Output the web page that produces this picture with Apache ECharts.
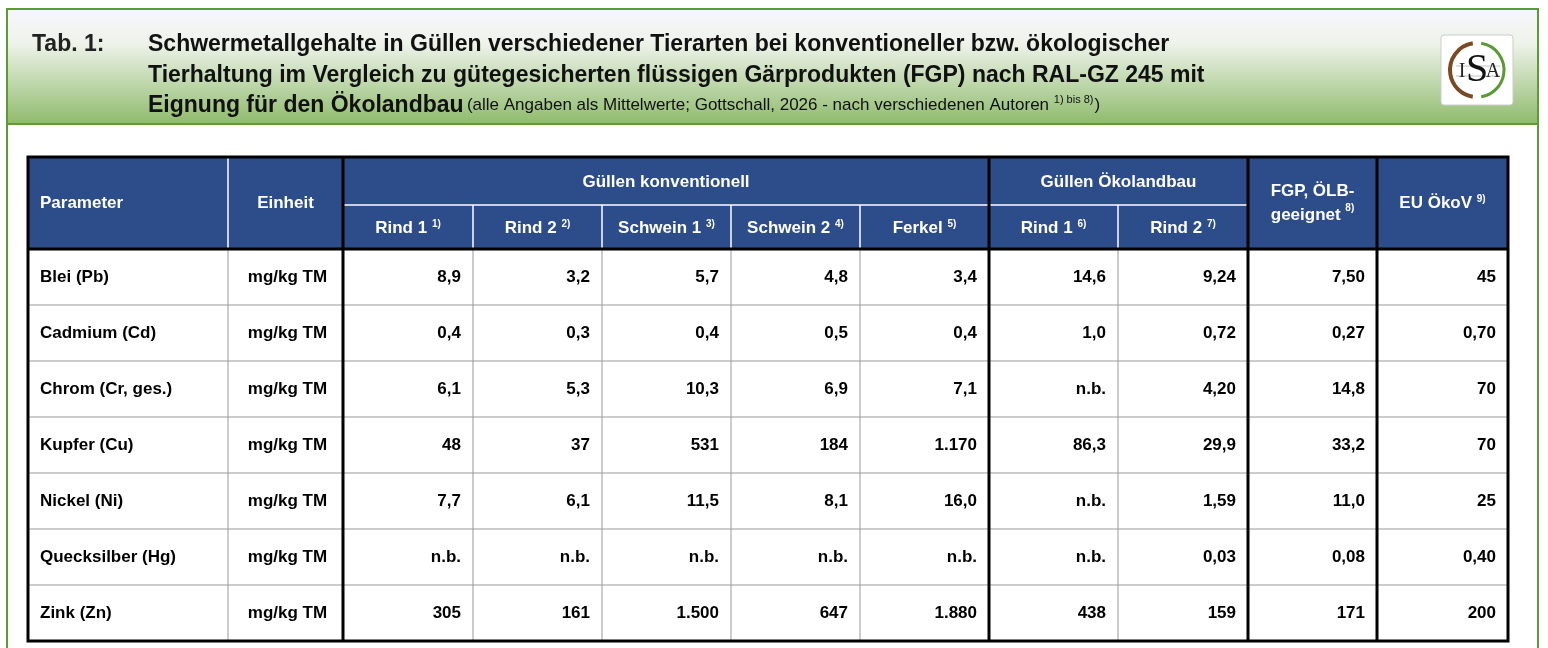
<!DOCTYPE html>
<html>
<head>
<meta charset="UTF-8">
<title>Tab. 1</title>
<script src="https://cdn.jsdelivr.net/npm/echarts@6/dist/echarts.min.js"></script>
<style>html,body{margin:0;padding:0;background:#fff}#main{width:1548px;height:648px}</style>
</head>
<body>
<div id="main"></div>
<script>
// Daten der Tabelle
var parameters = ['Blei (Pb)', 'Cadmium (Cd)', 'Chrom (Cr, ges.)', 'Kupfer (Cu)', 'Nickel (Ni)', 'Quecksilber (Hg)', 'Zink (Zn)'];
var einheit = 'mg/kg TM';
var subHeaders = [['Rind 1', '1)'], ['Rind 2', '2)'], ['Schwein 1', '3)'], ['Schwein 2', '4)'], ['Ferkel', '5)'], ['Rind 1', '6)'], ['Rind 2', '7)']];
var rind1Konv   = ['8,9', '0,4', '6,1', '48', '7,7', 'n.b.', '305'];
var rind2Konv   = ['3,2', '0,3', '5,3', '37', '6,1', 'n.b.', '161'];
var schwein1    = ['5,7', '0,4', '10,3', '531', '11,5', 'n.b.', '1.500'];
var schwein2    = ['4,8', '0,5', '6,9', '184', '8,1', 'n.b.', '647'];
var ferkel      = ['3,4', '0,4', '7,1', '1.170', '16,0', 'n.b.', '1.880'];
var rind1Oeko   = ['14,6', '1,0', 'n.b.', '86,3', 'n.b.', 'n.b.', '438'];
var rind2Oeko   = ['9,24', '0,72', '4,20', '29,9', '1,59', '0,03', '159'];
var fgp         = ['7,50', '0,27', '14,8', '33,2', '11,0', '0,08', '171'];
var euOekoV     = ['45', '0,70', '70', '70', '25', '0,40', '200'];
var valueCols = [rind1Konv, rind2Konv, schwein1, schwein2, ferkel, rind1Oeko, rind2Oeko, fgp, euOekoV];

// Layout
var colX = [28, 228, 343, 473, 602, 731, 860, 989, 1118, 1248, 1377, 1508];
var thickX = [343, 989, 1248, 1377];
var tabTop = 157, midH = 205, headBottom = 249, rowH = 56;
var navy = '#2c4d89';
var font = '"Liberation Sans", Arial, sans-serif';

var g = [];

// Rahmen und Kopfbereich
g.push({type: 'rect', shape: {x: 7, y: 9, width: 1531, height: 115},
  style: {fill: new echarts.graphic.LinearGradient(0, 0, 0, 1, [
    {offset: 0, color: '#f5f6fb'}, {offset: 0.3, color: '#eef3ea'}, {offset: 1, color: '#8fbb6c'}])}});
g.push({type: 'rect', shape: {x: 7, y: 9, width: 1531, height: 700}, style: {fill: null, stroke: '#5e9a36', lineWidth: 2}});
g.push({type: 'line', shape: {x1: 7, y1: 124, x2: 1538, y2: 124}, style: {stroke: '#5e9a36', lineWidth: 2}});

var titleStyle = {font: 'bold 23px ' + font, fill: '#111'};
g.push({type: 'text', x: 32, y: 33, style: Object.assign({text: 'Tab. 1:'}, titleStyle, {fill: '#222'})});
g.push({type: 'text', x: 148, y: 33, style: Object.assign({text: 'Schwermetallgehalte in Güllen verschiedener Tierarten bei konventioneller bzw. ökologischer'}, titleStyle)});
g.push({type: 'text', x: 148, y: 64, style: Object.assign({text: 'Tierhaltung im Vergleich zu gütegesicherten flüssigen Gärprodukten (FGP) nach RAL-GZ 245 mit'}, titleStyle)});
g.push({type: 'text', x: 148, y: 94, style: {
  text: '{b|Eignung für den Ökolandbau} {n|(alle Angaben als Mittelwerte; Gottschall, 2026 - nach verschiedenen Autoren }{s|1) bis 8)}{n|)}',
  rich: {b: {font: 'bold 23px ' + font, fill: '#111'}, n: {font: '17px ' + font, fill: '#111'},
         s: {font: '11px ' + font, fill: '#111', verticalAlign: 'top', padding: [0, 1, 8, 0]}}}});

// Logo
g.push({type: 'rect', shape: {x: 1441, y: 35, width: 72, height: 70, r: 3}, style: {fill: '#fff', stroke: '#ccc', lineWidth: 1}});
g.push({type: 'arc', shape: {cx: 1477, cy: 70, r: 27, startAngle: Math.PI * 1.45, endAngle: Math.PI * 0.55, clockwise: false}, style: {stroke: '#7a4a22', lineWidth: 4, fill: null}});
g.push({type: 'arc', shape: {cx: 1477, cy: 70, r: 27, startAngle: Math.PI * 1.55, endAngle: Math.PI * 0.45, clockwise: true}, style: {stroke: '#5a9a32', lineWidth: 3, fill: null}});
g.push({type: 'line', shape: {x1: 1456, y1: 66, x2: 1500, y2: 66}, style: {stroke: '#aaa', lineWidth: 0.7}});
g.push({type: 'line', shape: {x1: 1456, y1: 76, x2: 1500, y2: 76}, style: {stroke: '#aaa', lineWidth: 0.7}});
g.push({type: 'text', x: 1462, y: 72, style: {text: 'I', font: '20px "Liberation Serif", serif', fill: '#222', align: 'center', verticalAlign: 'middle'}});
g.push({type: 'text', x: 1477, y: 70, style: {text: 'S', font: '40px "Liberation Serif", serif', fill: '#111', align: 'center', verticalAlign: 'middle'}});
g.push({type: 'text', x: 1493, y: 72, style: {text: 'A', font: '20px "Liberation Serif", serif', fill: '#222', align: 'center', verticalAlign: 'middle'}});

// Tabellenkopf
g.push({type: 'rect', shape: {x: colX[0], y: tabTop, width: colX[11] - colX[0], height: headBottom - tabTop}, style: {fill: navy}});
var hw = {fill: '#fff', font: 'bold 17px ' + font};
var sup = {fill: '#fff', font: 'bold 10px ' + font, verticalAlign: 'top', padding: [0, 0, 7, 0]};
g.push({type: 'text', x: 40, y: (tabTop + headBottom) / 2, style: Object.assign({text: 'Parameter', verticalAlign: 'middle'}, hw)});
g.push({type: 'text', x: (colX[1] + colX[2]) / 2, y: (tabTop + headBottom) / 2, style: Object.assign({text: 'Einheit', align: 'center', verticalAlign: 'middle'}, hw)});
g.push({type: 'text', x: (colX[2] + colX[7]) / 2, y: 182, style: Object.assign({text: 'Güllen konventionell', align: 'center', verticalAlign: 'middle'}, hw)});
g.push({type: 'text', x: (colX[7] + colX[9]) / 2, y: 182, style: Object.assign({text: 'Güllen Ökolandbau', align: 'center', verticalAlign: 'middle'}, hw)});
subHeaders.forEach(function (h, i) {
  g.push({type: 'text', x: (colX[i + 2] + colX[i + 3]) / 2, y: 228, style: {
    text: '{h|' + h[0] + ' }{s|' + h[1] + '}', align: 'center', verticalAlign: 'middle', rich: {h: hw, s: sup}}});
});
g.push({type: 'text', x: (colX[9] + colX[10]) / 2, y: 203, style: {
  text: '{h|FGP, ÖLB-}\n{h|geeignet }{s|8)}', align: 'center', verticalAlign: 'middle', lineHeight: 24, rich: {h: Object.assign({lineHeight: 24}, hw), s: sup}}});
g.push({type: 'text', x: (colX[10] + colX[11]) / 2, y: 203, style: {
  text: '{h|EU ÖkoV }{s|9)}', align: 'center', verticalAlign: 'middle', rich: {h: hw, s: sup}}});
// weiße Linien im Kopf
g.push({type: 'line', shape: {x1: colX[1], y1: tabTop, x2: colX[1], y2: headBottom}, style: {stroke: '#fff', lineWidth: 1.5}});
g.push({type: 'line', shape: {x1: colX[2], y1: midH, x2: colX[9], y2: midH}, style: {stroke: '#fff', lineWidth: 1.5}});
for (var i = 3; i < 9; i++) {
  if (i === 7) continue;
  g.push({type: 'line', shape: {x1: colX[i], y1: midH, x2: colX[i], y2: headBottom}, style: {stroke: '#fff', lineWidth: 1.5}});
}

// Tabellenkörper
parameters.forEach(function (p, r) {
  var y0 = headBottom + r * rowH, cy = y0 + rowH / 2;
  if (r > 0) g.push({type: 'line', shape: {x1: colX[0], y1: y0, x2: colX[11], y2: y0}, style: {stroke: '#999', lineWidth: 1}});
  g.push({type: 'text', x: 40, y: cy, style: {text: p, font: 'bold 17px ' + font, fill: '#000', verticalAlign: 'middle'}});
  g.push({type: 'text', x: (colX[1] + colX[2]) / 2 + 2, y: cy, style: {text: einheit, font: 'bold 17px ' + font, fill: '#000', align: 'center', verticalAlign: 'middle'}});
  valueCols.forEach(function (col, c) {
    g.push({type: 'text', x: colX[c + 3] - 12, y: cy, style: {text: col[r], font: 'bold 17px ' + font, fill: '#000', align: 'right', verticalAlign: 'middle'}});
  });
});
var bodyBottom = headBottom + parameters.length * rowH;
for (var k = 1; k < 11; k++) {
  if (thickX.indexOf(colX[k]) >= 0) continue;
  g.push({type: 'line', shape: {x1: colX[k], y1: headBottom, x2: colX[k], y2: bodyBottom}, style: {stroke: '#999', lineWidth: 1}});
}
thickX.forEach(function (x) {
  g.push({type: 'line', shape: {x1: x, y1: tabTop, x2: x, y2: bodyBottom}, style: {stroke: '#000', lineWidth: 3}});
});
g.push({type: 'line', shape: {x1: colX[0], y1: headBottom, x2: colX[11], y2: headBottom}, style: {stroke: '#000', lineWidth: 3}});
g.push({type: 'rect', shape: {x: colX[0], y: tabTop, width: colX[11] - colX[0], height: bodyBottom - tabTop}, style: {fill: null, stroke: '#000', lineWidth: 3}});

var myChart = echarts.init(document.getElementById('main'));
myChart.setOption({animation: false, graphic: {elements: g}});
</script>
</body>
</html>
